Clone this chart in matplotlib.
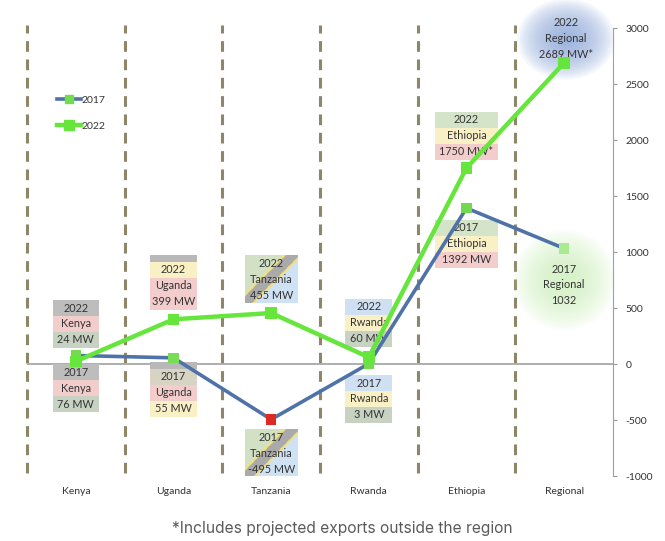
import numpy as np
import matplotlib.pyplot as plt
from matplotlib.patches import Rectangle, Ellipse
from matplotlib.lines import Line2D

countries = ["Kenya", "Uganda", "Tanzania", "Rwanda", "Ethiopia", "Regional"]
trade_2017 = [76, 55, -495, 3, 1392, 1032]
trade_2022 = [24, 399, 455, 60, 1750, 2689]
yticks = [-1000, -500, 0, 500, 1000, 1500, 2000, 2500, 3000]
footnote = "*Includes projected exports outside the region"

plt.rcParams["font.family"] = ["Lato", "DejaVu Sans"]

blue = "#4f72a8"
green = "#66e53c"
txt = "#333333"
marker_2017 = ["#72dc4e", "#78dc55", "#dd2a22", "#72dc4e", "#72d84f", "#a9ea92"]

fig = plt.figure(figsize=(6.65, 5.41), dpi=100)
ax = fig.add_axes([27 / 665, 65 / 541, 586 / 665, 448 / 541])
x = np.arange(len(countries)) + 0.5

# dashed separators
for b in range(len(countries)):
    ax.plot([b, b], [-970, 3030], color="#8d8668", lw=2.2, ls=(0, (3.5, 2.5)),
            zorder=0, clip_on=False)
ax.axhline(0, color="#a8a8a8", lw=1.3, zorder=0.5)

ax.plot(x, trade_2017, color=blue, lw=2.6, zorder=3)
ax.scatter(x, trade_2017, marker="s", s=55, c=marker_2017, zorder=4,
           edgecolors="none")
ax.plot(x, trade_2022, color=green, lw=3.2, zorder=5)
ax.scatter(x, trade_2022, marker="s", s=70, c=green, zorder=6,
           edgecolors="none")

ROW = 142


def box(cx, top, width, rows, colors, band=None):
    # top: centre of the first text row
    if band is not None:
        ax.add_patch(Rectangle((cx - width / 2, top + ROW / 2), width, 60,
                               fc=band, ec="none", zorder=1))
    for i, (r, c) in enumerate(zip(rows, colors)):
        yc = top - i * ROW
        if c is not None:
            ax.add_patch(Rectangle((cx - width / 2, yc - ROW / 2), width, ROW,
                                   fc=c, ec="none", zorder=1))
        ax.text(cx, yc, r, ha="center", va="center", fontsize=7.8, color=txt,
                zorder=2, clip_on=False)


def tz_box(cx, top, width, rows):
    # flag-like diagonal background
    h = ROW * len(rows)
    wpx, hpx = width * 97.7, h * 0.112
    gx, gy = np.meshgrid(np.linspace(0, 1, 80), np.linspace(0, 1, 80))
    d = gx * wpx - gy * hpx
    img = np.zeros((80, 80, 3))
    img[:] = np.array([207, 226, 243]) / 255
    img[d < 10] = np.array([240, 225, 130]) / 255
    img[d < 7] = np.array([170, 170, 170]) / 255
    img[d < -7] = np.array([240, 225, 130]) / 255
    img[d < -10] = np.array([210, 224, 196]) / 255
    ax.imshow(img, extent=[cx - width / 2, cx + width / 2,
                           top + ROW / 2 - h, top + ROW / 2],
              aspect="auto", zorder=1, origin="lower")
    box(cx, top, width, rows, [None] * len(rows))


def glow(cx, cy, w, h, color):
    for k in range(18):
        f = 1 - k / 18
        ax.add_patch(Ellipse((cx, cy), w * f, h * f, fc=color, ec="none",
                             alpha=0.09, zorder=0.8, clip_on=False))


grey = "#bdbdbd"
pink = "#f3cccc"
yel = "#faf0c6"
sage = "#c8d2c2"
lblue = "#cfe0f3"
lgreen = "#d4e4c9"

box(x[0], 500, 0.47, ["2022", "Kenya", f"{trade_2022[0]} MW"], [grey, pink, sage])
box(x[0], -75, 0.47, ["2017", "Kenya", f"{trade_2017[0]} MW"], [grey, pink, sage])
box(x[1], 840, 0.49, ["2022", "Uganda", f"{trade_2022[1]} MW"], [yel, pink, pink],
    band="#b8b8b8")
box(x[1], -115, 0.49, ["2017", "Uganda", f"{trade_2017[1]} MW"], ["#d8d4c4", pink, yel],
    band="#b8b8b8")
tz_box(x[2], 900, 0.54, ["2022", "Tanzania", f"{trade_2022[2]} MW"])
tz_box(x[2], -660, 0.54, ["2017", "Tanzania", f"{trade_2017[2]} MW"])
box(x[3], 510, 0.48, ["2022", "Rwanda", f"{trade_2022[3]} MW"], [lblue, yel, sage])
box(x[3], -170, 0.48, ["2017", "Rwanda", f"{trade_2017[3]} MW"], [lblue, yel, sage])
box(x[4], 2180, 0.65, ["2022", "Ethiopia", f"{trade_2022[4]} MW*"], [lgreen, yel, pink])
box(x[4], 1215, 0.65, ["2017", "Ethiopia", f"{trade_2017[4]} MW"], [lgreen, yel, pink])

glow(x[5] + 0.02, 2900, 1.0, 720, "#8fa9da")
glow(x[5], 750, 1.05, 900, "#d2f2c0")
box(x[5] + 0.02, 3045, 0.6, ["2022", "Regional", f"{trade_2022[5]} MW*"], [None] * 3)
box(x[5], 848, 0.6, ["2017", "Regional", f"{trade_2017[5]}"], [None] * 3)

ax.set_xlim(0, len(countries))
ax.set_ylim(-1000, 3000)
ax.set_xticks(x)
ax.set_xticklabels(countries, fontsize=7.5, color=txt)
ax.tick_params(axis="x", length=0, pad=8)
ax.yaxis.tick_right()
ax.set_yticks(yticks)
ax.set_yticklabels([str(v) for v in yticks], fontsize=7.5, color=txt)
ax.tick_params(axis="y", direction="out", length=3, color="#999999", pad=6)
for s in ["top", "left", "bottom"]:
    ax.spines[s].set_visible(False)
ax.spines["right"].set_color("#a0a0a0")

handles = [
    Line2D([], [], color=blue, lw=2.6, marker="s", ms=6, mfc="#72dc4e", mec="#72dc4e"),
    Line2D([], [], color=green, lw=3.2, marker="s", ms=7, mfc=green, mec=green),
]
ax.legend(handles, ["2017", "2022"], loc="upper left", bbox_to_anchor=(0.035, 0.87),
          frameon=False, fontsize=7.5, handlelength=2.3, handletextpad=0.1,
          labelspacing=1.6, labelcolor=txt)

fig.text(342 / 665, 1 - 529 / 541, footnote, ha="center", va="center", fontsize=11.2,
         color="#5a5a5a", family=["Inter", "DejaVu Sans"])

fig.savefig("out.png", dpi=100, facecolor="white")
